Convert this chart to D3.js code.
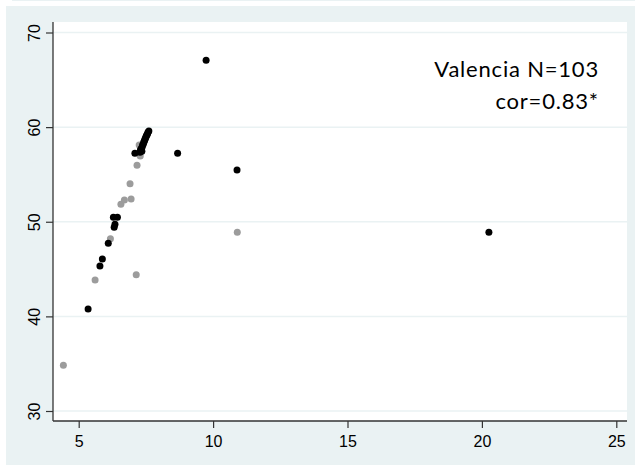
<!DOCTYPE html>
<html>
<head>
<meta charset="utf-8">
<script src="https://cdn.jsdelivr.net/npm/d3@7"></script>
<style>
  html, body { margin: 0; padding: 0; background: #ffffff; }
  svg { display: block; }
</style>
</head>
<body>
<svg id="chart" width="635" height="465"></svg>
<script>
// Tick labels for both axes
const xTicks = [5, 10, 15, 20, 25];
const yTicks = [30, 40, 50, 60, 70];

// Grey group: [x, y]
const greyX = [4.43, 5.61, 7.14, 6.18, 6.57, 6.70, 6.95, 6.91, 7.17, 7.29, 7.25, 7.31, 10.9];
const greyY = [34.83, 43.84, 44.4, 48.21, 51.84, 52.3, 52.4, 54.02, 55.97, 56.95, 58.1, 57.6, 48.9];

// Black group: [x, y]
const blackX = [5.35, 5.79, 5.88, 6.10, 6.32, 6.35, 6.29, 6.44, 7.09, 7.28, 7.35,
                7.30, 7.33, 7.36, 7.38, 7.40, 7.42, 7.44, 7.46, 7.48, 7.50, 7.52,
                7.54, 7.56, 7.58, 7.61, 8.68, 9.74, 10.89, 20.26];
const blackY = [40.78, 45.32, 46.06, 47.72, 49.41, 49.73, 50.47, 50.47, 57.23, 57.34, 57.45,
                57.6, 57.75, 57.9, 58.1, 58.2, 58.4, 58.5, 58.7, 58.8, 58.95, 59.1,
                59.2, 59.3, 59.45, 59.6, 57.23, 67.06, 55.47, 48.9];

const annotation = ["Valencia N=103", "cor=0.83*"];

const bg = "#eaf2f3";
const svg = d3.select("#chart");

// Plot region bounds
const plot = { left: 53, right: 627, top: 22, bottom: 421 };

// Graph region background
svg.append("rect").attr("x", 12).attr("y", 0).attr("width", 623).attr("height", 1).attr("fill", bg);
svg.append("rect").attr("x", 6).attr("y", 6).attr("width", 629).attr("height", 459).attr("fill", bg);
svg.append("rect")
  .attr("x", plot.left).attr("y", plot.top)
  .attr("width", plot.right - plot.left).attr("height", plot.bottom - plot.top)
  .attr("fill", "#ffffff");

const x = d3.scaleLinear().domain([5, 25]).range([78.7, 616.3]);
const y = d3.scaleLinear().domain([30, 70]).range([411, 32.5]);

// Horizontal grid lines
svg.append("g").selectAll("line").data(yTicks).join("line")
  .attr("x1", plot.left).attr("x2", plot.right)
  .attr("y1", d => y(d)).attr("y2", d => y(d))
  .attr("stroke", bg).attr("stroke-width", 1.5);

const axisColor = "#333333";

// Y axis
const yAxis = svg.append("g")
  .attr("transform", `translate(${plot.left},0)`)
  .call(d3.axisLeft(y).tickValues(yTicks).tickSize(7).tickSizeOuter(0).tickFormat(d3.format("d")));
yAxis.select(".domain").remove();
yAxis.selectAll(".tick line").attr("stroke", axisColor).attr("stroke-width", 1.2);
yAxis.selectAll(".tick text")
  .attr("font-family", "'Liberation Sans', Arial, sans-serif")
  .attr("font-size", 16)
  .attr("fill", "#000")
  .attr("text-anchor", "middle")
  .attr("x", null).attr("dy", null)
  .attr("transform", "translate(-13,0) rotate(-90)");

// X axis
const xAxis = svg.append("g")
  .attr("transform", `translate(0,${plot.bottom})`)
  .call(d3.axisBottom(x).tickValues(xTicks).tickSize(7).tickSizeOuter(0).tickFormat(d3.format("d")));
xAxis.select(".domain").remove();
xAxis.selectAll(".tick line").attr("stroke", axisColor).attr("stroke-width", 1.2);
xAxis.selectAll(".tick text")
  .attr("font-family", "'Liberation Sans', Arial, sans-serif")
  .attr("font-size", 16)
  .attr("fill", "#000")
  .attr("y", 25.5).attr("dy", null);

// Axis lines along the plot region edges
svg.append("line")
  .attr("x1", plot.left).attr("x2", plot.left)
  .attr("y1", plot.top).attr("y2", plot.bottom)
  .attr("stroke", axisColor).attr("stroke-width", 1.3);
svg.append("line")
  .attr("x1", plot.left).attr("x2", plot.right)
  .attr("y1", plot.bottom).attr("y2", plot.bottom)
  .attr("stroke", axisColor).attr("stroke-width", 1.3);

// Points
const r = 3.5;
svg.append("g").selectAll("circle").data(d3.range(greyX.length)).join("circle")
  .attr("cx", i => x(greyX[i])).attr("cy", i => y(greyY[i]))
  .attr("r", r).attr("fill", "#9c9c9c");
svg.append("g").selectAll("circle").data(d3.range(blackX.length)).join("circle")
  .attr("cx", i => x(blackX[i])).attr("cy", i => y(blackY[i]))
  .attr("r", r).attr("fill", "#000000");

// Annotation
svg.append("g").selectAll("text").data(annotation).join("text")
  .attr("x", 599)
  .attr("y", (d, i) => 77 + i * 32)
  .attr("text-anchor", "end")
  .attr("font-family", "Lato, 'Open Sans', sans-serif")
  .attr("font-size", 22)
  .attr("letter-spacing", 0.8)
  .attr("fill", "#000")
  .text(d => d);
</script>
</body>
</html>
